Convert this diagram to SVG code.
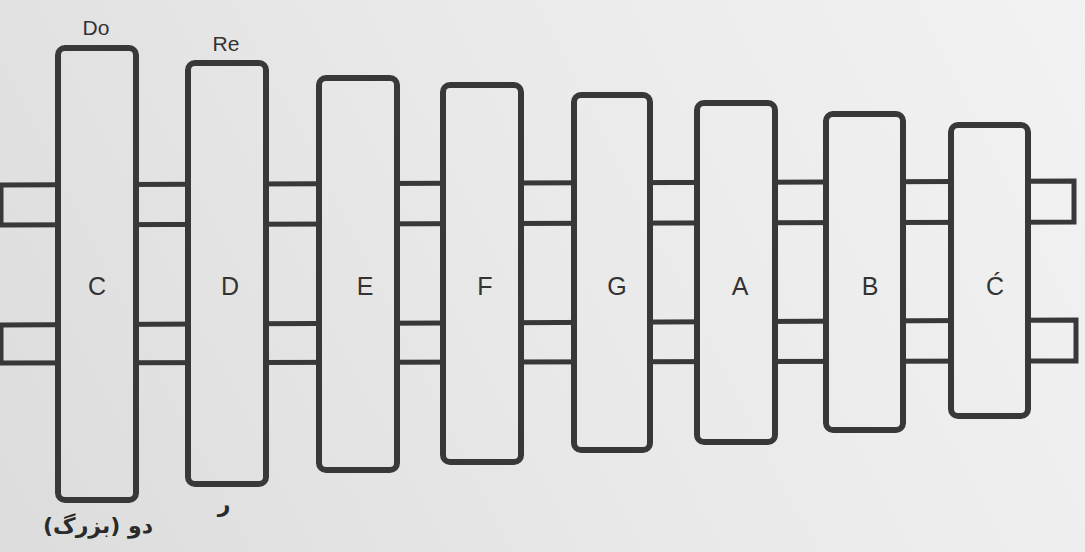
<svg xmlns="http://www.w3.org/2000/svg" width="1085" height="552" viewBox="0 0 1085 552">
  <defs>
    <linearGradient id="bg" gradientUnits="userSpaceOnUse" x1="0" y1="552" x2="1085" y2="0">
      <stop offset="0" stop-color="#dcdcdc"/>
      <stop offset="0.5" stop-color="#e9e9e9"/>
      <stop offset="1" stop-color="#f2f2f2"/>
    </linearGradient>
    <style>
      .rail { fill: url(#bg); stroke: #383838; stroke-width: 5; stroke-linejoin: miter; }
      .bar { fill: url(#bg); stroke: #383838; stroke-width: 6; }
      .note { font-family: "Liberation Sans", Arial, sans-serif; font-size: 25px; fill: #333; text-anchor: middle; }
      .sol { font-family: "Liberation Sans", Arial, sans-serif; font-size: 21px; fill: #333; text-anchor: middle; }
      .fa { font-family: "DejaVu Sans", "Noto Sans", sans-serif; font-size: 22px; fill: #2a2a2a; text-anchor: middle; font-weight: bold; }
    </style>
  </defs>
  <rect x="0" y="0" width="1085" height="552" fill="url(#bg)"/>

  <g id="connectors">
    <path class="rail" d="M1,185 L1074,181 L1074,222 L1,225 Z"/>
    <path class="rail" d="M1,325 L1076,320 L1076,361 L1,363 Z"/>
  </g>

  <g id="bar-C">
    <rect class="bar" x="58" y="48" width="78" height="452" rx="7"/>
    <text class="note" x="97" y="295">C</text>
    <text class="sol" x="96" y="35">Do</text>
    <text class="fa" x="98" y="533">دو (بزرگ)</text>
  </g>
  <g id="bar-D">
    <rect class="bar" x="188" y="63" width="78" height="421" rx="7"/>
    <text class="note" x="230" y="295">D</text>
    <text class="sol" x="226" y="51">Re</text>
    <text class="fa" x="224" y="512">ر</text>
  </g>
  <g id="bar-E">
    <rect class="bar" x="319" y="78" width="78" height="392" rx="7"/>
    <text class="note" x="365" y="295">E</text>
  </g>
  <g id="bar-F">
    <rect class="bar" x="443" y="85" width="78" height="377" rx="7"/>
    <text class="note" x="485" y="295">F</text>
  </g>
  <g id="bar-G">
    <rect class="bar" x="574" y="95" width="76" height="355" rx="7"/>
    <text class="note" x="617" y="295">G</text>
  </g>
  <g id="bar-A">
    <rect class="bar" x="697" y="103" width="78" height="339" rx="7"/>
    <text class="note" x="740" y="295">A</text>
  </g>
  <g id="bar-B">
    <rect class="bar" x="826" y="114" width="77" height="316" rx="7"/>
    <text class="note" x="870" y="295">B</text>
  </g>
  <g id="bar-C2">
    <rect class="bar" x="951" y="125" width="77" height="291" rx="7"/>
    <text class="note" x="995" y="295">C&#x301;</text>
  </g>
</svg>
